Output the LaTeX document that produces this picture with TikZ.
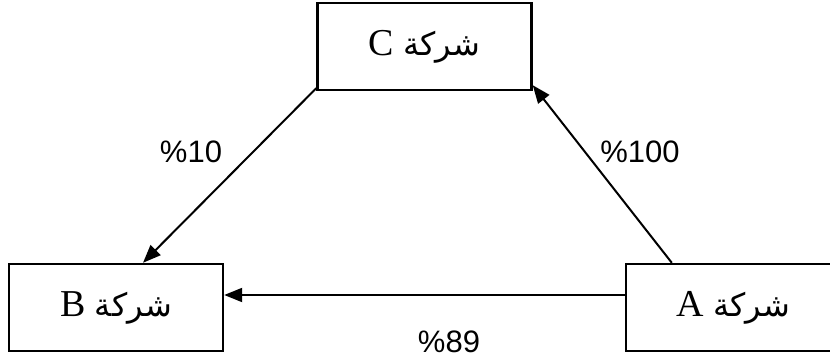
\documentclass[tikz,border=0pt]{standalone}
\usepackage{fontspec}
\setmainfont{Liberation Serif}
\newfontfamily\arabicfont[Script=Arabic]{DejaVu Sans}
\newfontfamily\pctfont{Liberation Sans}
\TeXXeTstate=1
\usetikzlibrary{arrows.meta, positioning}

\newcommand{\firm}[1]{#1~{\arabicfont\fontsize{16}{20}\selectfont\beginR شركة\endR}}

\begin{document}
\begin{tikzpicture}[
    x=0.5pt, y=-0.5pt,
    company/.style={rectangle, draw=black, line width=1.2pt, fill=white, minimum width=107pt, minimum height=43.5pt, inner sep=0pt, align=center, font=\fontsize{19}{22}\selectfont},
    share/.style={font=\pctfont\fontsize{15.5}{18}\selectfont, inner sep=1pt},
    arrow/.style={-{Triangle[length=9pt, width=7pt]}, line width=1pt, black}
]
\clip (0,0) rectangle (830,363);
\useasboundingbox (0,0) rectangle (830,363);

% Companies
\node[company] (compC) at (424.5,46.5) {\firm{C}};
\node[company] (compB) at (116,307.5) {\firm{B}};
\node[company] (compA) at (733,307.5) {\firm{A}};

% Ownership links
\coordinate (fromA) at ([yshift=6.25pt]compA.west);
\draw[arrow] ([yshift=1.5pt]compC.south west) -- ([xshift=13.5pt]compB.north);
\draw[arrow] ([xshift=23.5pt]compA.north west) -- ([yshift=3pt]compC.south east);
\draw[arrow] (fromA) -- (compB.east |- fromA);

% Shares
\node[share] (shareCB) at (191,152) {\%10};
\node[share] (shareAC) at (640,152) {\%100};
\node[share] (shareAB) at (449,342) {\%89};

\end{tikzpicture}
\end{document}
